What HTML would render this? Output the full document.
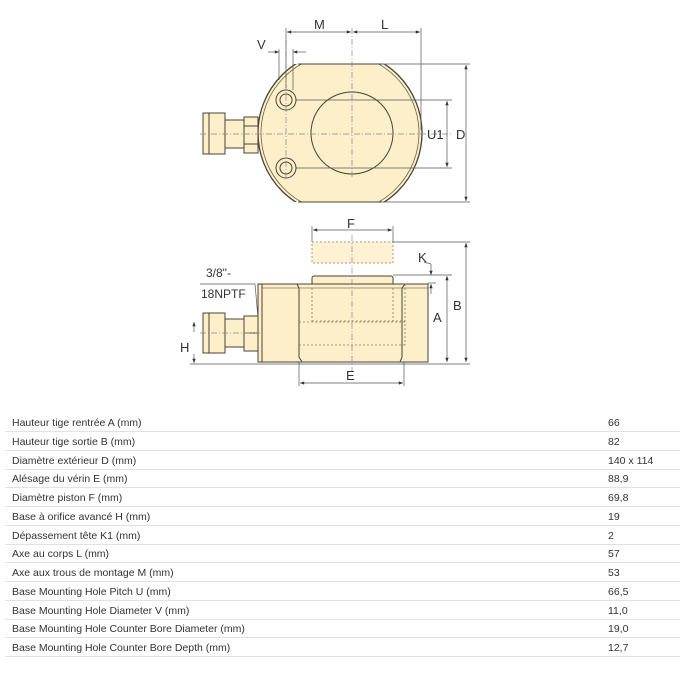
<!DOCTYPE html>
<html><head><meta charset="utf-8"><style>
body{margin:0;background:#fff;width:684px;height:676px;overflow:hidden;font-family:"Liberation Sans",sans-serif}
.t{position:absolute;left:0;top:0}
.row{position:absolute;left:5px;width:675px;height:18px;border-bottom:1px solid #e2e2e2;font-size:10.5px;color:#333}
.row span{position:absolute;top:4px}
.row .v{left:603px}
.row .k{left:7px}
</style></head><body>
<svg class="t" width="684" height="410" viewBox="0 0 684 410" font-family="Liberation Sans, sans-serif" font-size="13" fill="none" stroke="#4a4236" stroke-width="1">
<defs>
<marker id="a" viewBox="0 0 10 10" refX="10" refY="5" markerWidth="8" markerHeight="6" orient="auto-start-reverse"><path d="M0,1 L10,5 L0,9 z" fill="#333" stroke="none"/></marker>
<clipPath id="c"><rect x="250" y="64" width="200" height="138"/></clipPath>
</defs>
<!-- TOP VIEW -->
<g clip-path="url(#c)">
<circle cx="340" cy="133" r="82" fill="#fcefc9" stroke="#4a4236" stroke-width="1.3"/>
<circle cx="340" cy="133" r="79" stroke="#6a604f" stroke-width="0.8"/>
</g>
<line x1="298" y1="64" x2="382" y2="64"/>
<line x1="298" y1="202" x2="382" y2="202"/>
<circle cx="352" cy="133" r="41" stroke-width="1"/>
<circle cx="286" cy="100" r="10"/><circle cx="286" cy="100" r="6"/>
<circle cx="286" cy="168" r="10"/><circle cx="286" cy="168" r="6"/>
<!-- fitting -->
<rect x="203" y="113" width="22" height="41" fill="#fcefc9"/>
<line x1="209" y1="113" x2="209" y2="154"/>
<rect x="225" y="120" width="20" height="28" fill="#fcefc9"/>
<rect x="244" y="117" width="14" height="36" fill="#fcefc9"/>
<line x1="244" y1="126" x2="258" y2="126"/><line x1="244" y1="144" x2="258" y2="144"/>
<g stroke="#888" stroke-width="0.7" stroke-dasharray="6,2,1,2">
<line x1="200" y1="134" x2="452" y2="134"/>
<line x1="352" y1="28" x2="352" y2="178"/>
<line x1="286" y1="40" x2="286" y2="180"/>
</g>
<!-- dims top -->
<g stroke="#555" stroke-width="0.7">
<line x1="286" y1="28" x2="286" y2="88"/>
<line x1="421" y1="28" x2="421" y2="130"/>
<line x1="279" y1="49" x2="279" y2="80"/>
<line x1="293" y1="49" x2="293" y2="90"/>
<line x1="382" y1="64" x2="470" y2="64"/>
<line x1="382" y1="202" x2="470" y2="202"/>
<line x1="296" y1="100" x2="452" y2="100"/>
<line x1="296" y1="168" x2="452" y2="168"/>
<line x1="287" y1="32" x2="351" y2="32" marker-start="url(#a)" marker-end="url(#a)"/>
<line x1="353" y1="32" x2="420" y2="32" marker-start="url(#a)" marker-end="url(#a)"/>
<line x1="268" y1="52" x2="279" y2="52" marker-end="url(#a)"/>
<line x1="306" y1="52" x2="293" y2="52" marker-end="url(#a)"/>
<line x1="466" y1="65" x2="466" y2="201" marker-start="url(#a)" marker-end="url(#a)"/>
<line x1="447" y1="101" x2="447" y2="167" marker-start="url(#a)" marker-end="url(#a)"/>
</g>
<g fill="#333" stroke="none">
<text x="314" y="29">M</text><text x="381" y="29">L</text><text x="257" y="49">V</text>
<text x="427" y="139">U1</text><text x="456" y="139">D</text>
</g>
<!-- SIDE VIEW -->
<rect x="312" y="242" width="81" height="21" fill="#fdf2d3" stroke="#b09a70" stroke-dasharray="2,2"/>
<rect x="312" y="276" width="81" height="10" rx="2" fill="#fcefc9"/>
<path d="M262,284 H428 V362 H262 Z" fill="#fcefc9"/>
<path d="M297,284 L299,288 V357 L302,362 M405,284 L402,288 V357 L400,362"/>
<line x1="259" y1="288" x2="428" y2="288" stroke-width="0.5"/>
<g stroke="#8a7a5a" stroke-dasharray="2,2" stroke-width="0.8">
<line x1="312" y1="288" x2="312" y2="321"/><line x1="393" y1="288" x2="393" y2="321"/>
<line x1="312" y1="321" x2="405" y2="321"/>
<line x1="299" y1="322" x2="405" y2="322"/>
<line x1="299" y1="345" x2="405" y2="345"/>
<line x1="405" y1="284" x2="405" y2="345"/>
</g>
<rect x="258" y="284" width="4" height="78" fill="#fcefc9"/>
<rect x="203" y="313" width="22" height="40" fill="#fcefc9"/>
<line x1="209" y1="313" x2="209" y2="353"/>
<rect x="225" y="319" width="20" height="28" fill="#fcefc9"/>
<rect x="244" y="316" width="14" height="35" fill="#fcefc9"/>
<line x1="244" y1="333" x2="258" y2="333"/>
<g stroke="#888" stroke-width="0.7" stroke-dasharray="6,2,1,2">
<line x1="352" y1="235" x2="352" y2="372"/>
<line x1="200" y1="333" x2="260" y2="333"/>
</g>
<g stroke="#555" stroke-width="0.7">
<line x1="312" y1="226" x2="312" y2="242"/><line x1="393" y1="226" x2="393" y2="242"/>
<line x1="313" y1="230" x2="392" y2="230" marker-start="url(#a)" marker-end="url(#a)"/>
<line x1="393" y1="242" x2="470" y2="242"/>
<line x1="393" y1="275" x2="452" y2="275"/>
<line x1="428" y1="283" x2="436" y2="283"/>
<line x1="190" y1="364" x2="470" y2="364"/>
<line x1="466" y1="243" x2="466" y2="362" marker-start="url(#a)" marker-end="url(#a)"/>
<line x1="447" y1="276" x2="447" y2="362" marker-start="url(#a)" marker-end="url(#a)"/>
<line x1="431" y1="264" x2="431" y2="275" marker-end="url(#a)"/>
<line x1="431" y1="294" x2="431" y2="284" marker-end="url(#a)"/>
<line x1="424" y1="262" x2="431" y2="264"/>
<line x1="299" y1="362" x2="299" y2="386"/><line x1="404" y1="362" x2="404" y2="386"/>
<line x1="300" y1="383" x2="403" y2="383" marker-start="url(#a)" marker-end="url(#a)"/>
<line x1="194" y1="322" x2="194" y2="332" marker-start="url(#a)"/>
<line x1="194" y1="354" x2="194" y2="363" marker-end="url(#a)"/>
<line x1="200" y1="284" x2="255" y2="284"/><line x1="255" y1="284" x2="258" y2="318"/>
</g>
<g fill="#333" stroke="none">
<text x="347" y="228">F</text><text x="418" y="262">K</text>
<text x="453" y="310">B</text><text x="433" y="322">A</text>
<text x="346" y="380">E</text><text x="180" y="352">H</text>
<text x="206" y="277" font-size="12">3/8"-</text>
<text x="201" y="298" font-size="12">18NPTF</text>
</g>
</svg>
<div class="row" style="top:413px"><span class="k">Hauteur tige rentrée A (mm)</span><span class="v">66</span></div>
<div class="row" style="top:432px"><span class="k">Hauteur tige sortie B (mm)</span><span class="v">82</span></div>
<div class="row" style="top:451px"><span class="k">Diamètre extérieur D (mm)</span><span class="v">140 x 114</span></div>
<div class="row" style="top:469px"><span class="k">Alésage du vérin E (mm)</span><span class="v">88,9</span></div>
<div class="row" style="top:488px"><span class="k">Diamètre piston F (mm)</span><span class="v">69,8</span></div>
<div class="row" style="top:507px"><span class="k">Base à orifice avancé H (mm)</span><span class="v">19</span></div>
<div class="row" style="top:526px"><span class="k">Dépassement tête K1 (mm)</span><span class="v">2</span></div>
<div class="row" style="top:544px"><span class="k">Axe au corps L (mm)</span><span class="v">57</span></div>
<div class="row" style="top:563px"><span class="k">Axe aux trous de montage M (mm)</span><span class="v">53</span></div>
<div class="row" style="top:582px"><span class="k">Base Mounting Hole Pitch U (mm)</span><span class="v">66,5</span></div>
<div class="row" style="top:601px"><span class="k">Base Mounting Hole Diameter V (mm)</span><span class="v">11,0</span></div>
<div class="row" style="top:619px"><span class="k">Base Mounting Hole Counter Bore Diameter (mm)</span><span class="v">19,0</span></div>
<div class="row" style="top:638px"><span class="k">Base Mounting Hole Counter Bore Depth (mm)</span><span class="v">12,7</span></div>
</body></html>
